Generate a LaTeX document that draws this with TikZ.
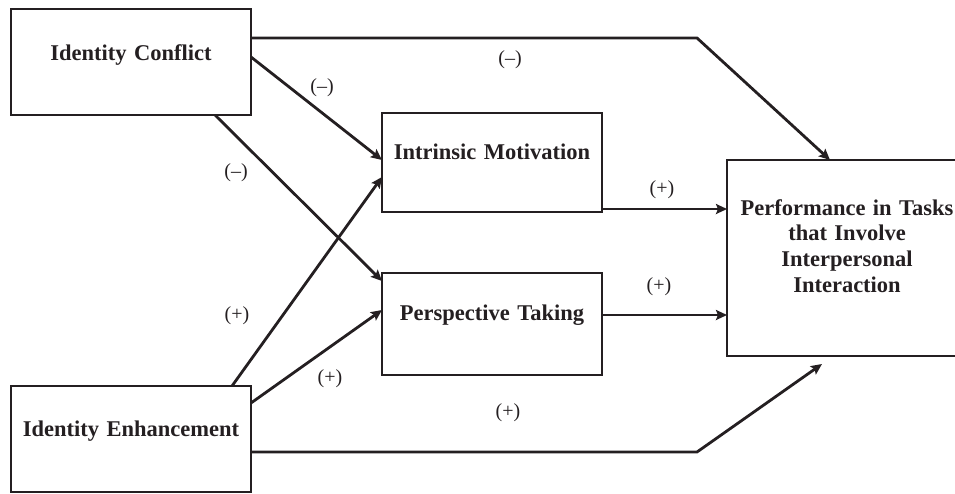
\documentclass[tikz,border=0pt]{standalone}
\usepackage{fontspec}
\setmainfont{Liberation Serif}
\usetikzlibrary{arrows.meta}
\definecolor{LineClr}{rgb}{0.14,0.12,0.13}

\begin{document}
\begin{tikzpicture}[x=1pt,y=-1pt,
  box/.style={draw=LineClr,line width=1.8pt,anchor=north west,inner sep=0pt,outer sep=0pt,
    align=center,text width=240pt,text=LineClr,font=\fontsize{22.5}{25.7}\selectfont\bfseries},
  link/.style={draw=LineClr,line width=2.8pt,-{Stealth[length=11pt,width=10pt,inset=2pt]}},
  sign/.style={text=LineClr,inner sep=0pt,font=\fontsize{20}{24}\selectfont}]
\useasboundingbox (0,0) rectangle (955,493);
\clip (0,0) rectangle (955,493);

\node[box,text height=51pt,text depth=55pt] (ic) at (11,9) {Identity Conflict};
\node[box,text height=50pt,text depth=56pt] (ie) at (11,386) {Identity Enhancement};
\node[box,text width=220pt,text height=46pt,text depth=53pt] (im) at (382,113) {Intrinsic Motivation};
\node[box,text width=220pt,text height=47pt,text depth=55pt] (pt) at (382,273) {Perspective Taking};
\node[box,text height=55pt,text depth=141pt] (perf) at (727,160)
  {Performance in Tasks\\that Involve\\Interpersonal\\Interaction};

\draw[link] ([yshift=-29pt]ic.north east) -- ++(446,0) -- ([xshift=103pt]perf.north west);
\draw[link] ([yshift=-48pt]ic.north east) -- ([yshift=-47pt]im.north west);
\draw[link] ([xshift=-36pt]ic.south east) -- ([yshift=-8pt]pt.north west);
\draw[link] ([xshift=-19pt]ie.north east) -- ([yshift=-64pt]im.north west);
\draw[link] ([yshift=-17pt]ie.north east) -- ([yshift=-37pt]pt.north west);
\draw[link] ([yshift=-66pt]ie.north east) -- ++(446,0) -- ([xshift=95pt,yshift=-8pt]perf.south west);
\draw[link] ([yshift=3pt]im.south east) -- ([yshift=-49pt]perf.north west);
\draw[link] ([yshift=-42pt]pt.north east) -- ([yshift=-155pt]perf.north west);

\node[sign] (s1) at (510,60) {(--)};
\node[sign] (s2) at (322,88) {(--)};
\node[sign] (s3) at (236,173) {(--)};
\node[sign] (s4) at (237,316) {(+)};
\node[sign] (s5) at (330,379) {(+)};
\node[sign] (s6) at (508,413) {(+)};
\node[sign] (s7) at (662,190) {(+)};
\node[sign] (s8) at (659,287) {(+)};

\end{tikzpicture}
\end{document}
